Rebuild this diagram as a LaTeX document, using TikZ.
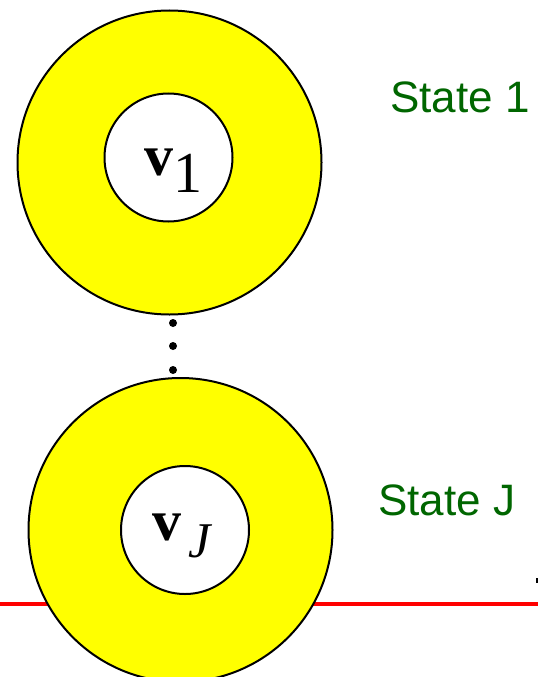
\documentclass[tikz,border=0pt]{standalone}
\usepackage{fontspec}
\setmainfont{Liberation Serif}
\setsansfont{Liberation Sans}
\usetikzlibrary{positioning}
\definecolor{stategreen}{RGB}{0,102,0}
\definecolor{ringyellow}{RGB}{255,255,0}
\definecolor{levelred}{RGB}{255,0,0}
\newcommand{\vecfont}{\fontsize{58}{58}\selectfont}

\begin{document}
\begin{tikzpicture}[x=1pt, y=-1pt,
    ring/.style={circle, draw=black, line width=2pt, fill=ringyellow,
                 minimum size=304pt, inner sep=0pt},
    core/.style={circle, draw=black, line width=2pt, fill=white,
                 minimum size=128pt, inner sep=0pt},
    veclabel/.style={anchor=base west, inner sep=0pt, font=\vecfont},
    statelabel/.style={anchor=base west, inner sep=0pt, text=stategreen,
                       font=\sffamily\fontsize{44}{44}\selectfont},
    dotnode/.style={circle, fill=black, minimum size=8pt, inner sep=0pt}
  ]
  \useasboundingbox (0,0) rectangle (538,677);
  \clip (0,0) rectangle (538,677);

  % energy level
  \coordinate (levelL) at (0,604);
  \coordinate (levelR) at (538,604);
  \draw[levelred, line width=3.5pt] (levelL) -- (levelR);

  % state 1
  \node[ring] (ring1) at (169.5,162.5) {};
  \node[core] (core1) at (168.5,157.5) {};
  \node[veclabel] (vone) at (144,175) {\textbf{v}\raisebox{-17pt}{1}};
  \node[statelabel] (state1) at (390,112) {State 1};

  % dots in between
  \foreach \y [count=\i] in {323,346,370}
    \node[dotnode] (dot\i) at (173,\y) {};

  % state J
  \node[ring] (ringJ) at (180.5,530) {};
  \node[core] (coreJ) at (185,530) {};
  \node[veclabel] (vJ) at (152,540)
    {\textbf{v}\hspace{7pt}\raisebox{-17pt}{\fontsize{50}{50}\selectfont\textit{J}}};
  \node[statelabel] (stateJ) at (378,515) {State J};

  \fill (536,578) rectangle (538,583);
\end{tikzpicture}
\end{document}
